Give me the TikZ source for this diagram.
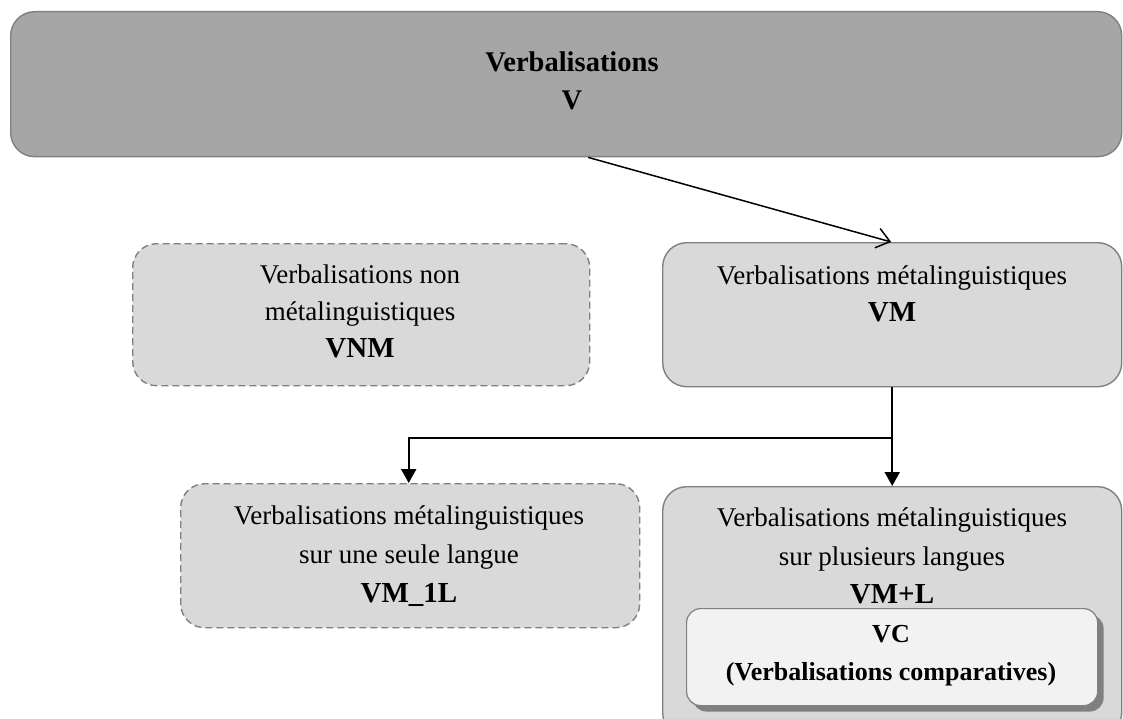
\documentclass[tikz,border=0pt]{standalone}
\usepackage{fontspec}
\setmainfont{Liberation Serif}
\usetikzlibrary{arrows.meta,shadows}
\definecolor{topfill}{HTML}{A6A6A6}
\definecolor{boxfill}{HTML}{D9D9D9}
\definecolor{vcfill}{HTML}{F2F2F2}
\definecolor{edge}{HTML}{808080}
\newcommand{\lbl}[1]{{\fontsize{29}{37}\selectfont\bfseries #1}}
\begin{document}
\begin{tikzpicture}[x=1pt,y=-1pt,
  boxbase/.style={draw=edge, line width=1.4pt, rounded corners=24pt, inner sep=0pt, anchor=north west},
  solidbox/.style={boxbase, fill=boxfill},
  dashbox/.style={boxbase, fill=boxfill, dashed, dash pattern=on 7pt off 4pt},
  topbox/.style={boxbase, fill=topfill},
  vcbox/.style={draw=edge, line width=1.2pt, fill=vcfill, rounded corners=14pt, inner sep=0pt, anchor=north west,
     drop shadow={shadow xshift=6pt, shadow yshift=-6pt, fill=black!50, opacity=1}},
  txt/.style={align=center, font=\fontsize{27}{37}\selectfont, inner sep=0pt},
  btxt/.style={align=center, font=\fontsize{26}{38}\selectfont\bfseries, inner sep=0pt},
  conn/.style={line width=2pt, -{Triangle[length=14pt,width=15pt]}},
  diag/.style={line width=1.5pt, -{Straight Barb[length=13pt,width=20pt,line width=1.5pt]}}
]
\useasboundingbox (0,0) rectangle (1123,719);
% boxes
\node[topbox, minimum width=1111pt, minimum height=145pt] (V) at (10,11) {};
\node[dashbox, minimum width=457pt, minimum height=142pt] (VNM) at (132,243) {};
\node[solidbox, minimum width=459pt, minimum height=144pt] (VM) at (662,242) {};
\node[dashbox, minimum width=459pt, minimum height=144pt] (VM1L) at (180,483) {};
\node[solidbox, minimum width=459pt, minimum height=250pt] (VMPL) at (662,486) {};
\node[vcbox, minimum width=411pt, minimum height=97pt] (VC) at (686,608) {};
% texts
\node[btxt, font=\fontsize{28.5}{38}\selectfont\bfseries] (tV) at (572,81) {Verbalisations\\V};
\node[txt] (tVNM) at (360,311) {Verbalisations non\\métalinguistiques\\\lbl{VNM}};
\node[txt] (tVM) at (892,294) {Verbalisations métalinguistiques\\\lbl{VM}};
\node[txt, font=\fontsize{27}{39}\selectfont] (tVM1L) at (409,556) {Verbalisations métalinguistiques\\sur une seule langue\\\lbl{VM\_1L}};
\node[txt, font=\fontsize{27}{38.5}\selectfont] (tVMPL) at (892,556) {Verbalisations métalinguistiques\\sur plusieurs langues\\\lbl{VM+L}};
\node[btxt] (tVC) at (891,656) {VC\\(Verbalisations comparatives)};
% connectors
\draw[diag] ([xshift=22pt]V.south) -- ([xshift=-1pt]VM.north);
\coordinate (J) at ([yshift=-51pt]VM.south);
\draw[line width=2pt] (VM.south) -- (J);
\draw[conn] (J) -| ([xshift=-1.5pt]VM1L.north);
\draw[conn] (J) -- (VMPL.north);
\end{tikzpicture}
\end{document}
